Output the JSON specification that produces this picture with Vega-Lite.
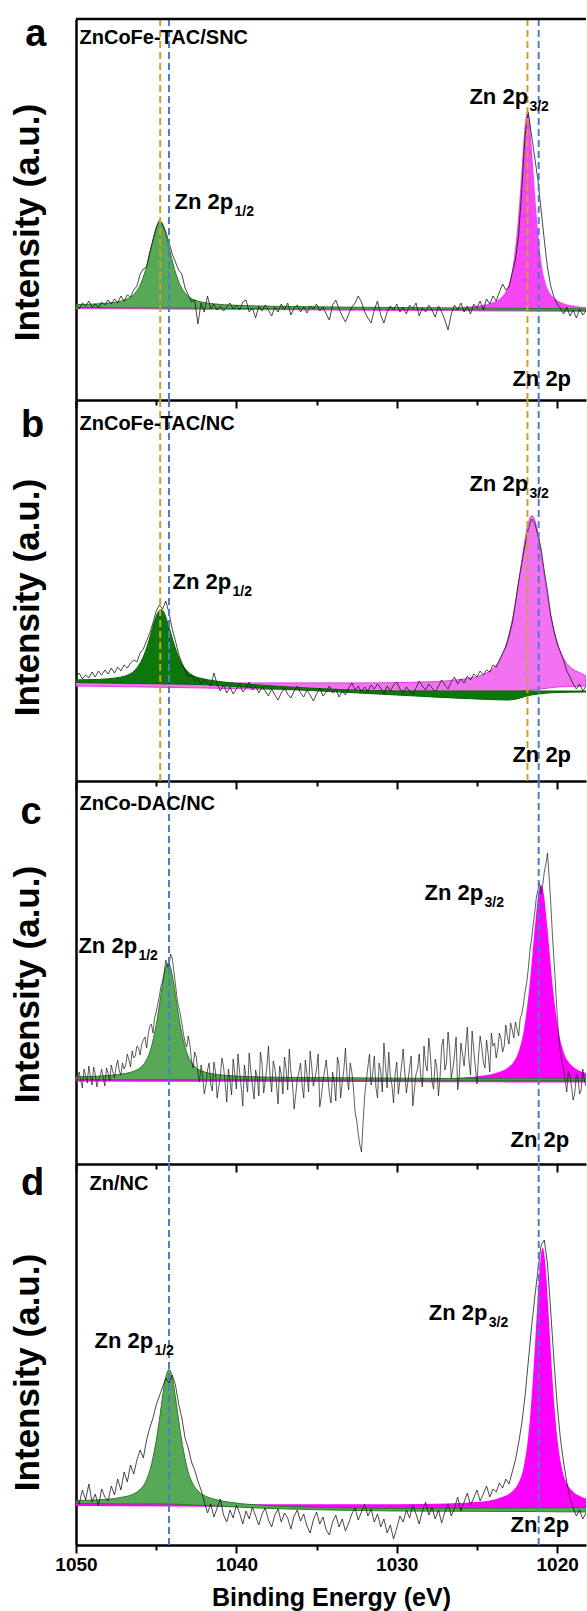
{
  "$schema": "https://vega.github.io/schema/vega-lite/v6.json",
  "background": "white",
  "padding": {"left": 10, "top": 15, "right": 0, "bottom": 2},
  "bounds": "flush",
  "spacing": 0,
  "resolve": {"scale": {"x": "independent", "y": "independent", "color": "independent"}},
  "config": {"view": {"stroke": null}, "font": "Liberation Sans"},
  "datasets": {
    "refs": [
      {"e": 1044.75, "g": "TAC"}, {"e": 1021.85, "g": "TAC"},
      {"e": 1044.2, "g": "NC"}, {"e": 1021.15, "g": "NC"}
    ],
    "raw_a": [
      {"e":1050,"v":95},{"e":1049.8,"v":91},{"e":1049.6,"v":97},{"e":1049.4,"v":94},{"e":1049.2,"v":99},{"e":1049,"v":93},{"e":1048.8,"v":96},{"e":1048.6,"v":92},{"e":1048.4,"v":98},{"e":1048.2,"v":95},
      {"e":1048,"v":100},{"e":1047.8,"v":96},{"e":1047.6,"v":101},{"e":1047.4,"v":97},{"e":1047.2,"v":104},{"e":1047,"v":99},{"e":1046.8,"v":105},{"e":1046.6,"v":103},{"e":1046.4,"v":110},{"e":1046.2,"v":114},
      {"e":1046,"v":126},{"e":1045.8,"v":131},{"e":1045.6,"v":133},{"e":1045.4,"v":148},{"e":1045.2,"v":160},{"e":1045,"v":172},{"e":1044.8,"v":180},{"e":1044.6,"v":175},{"e":1044.4,"v":168},{"e":1044.2,"v":158},
      {"e":1044,"v":146},{"e":1043.8,"v":138},{"e":1043.6,"v":130},{"e":1043.4,"v":126},{"e":1043.2,"v":112},{"e":1043,"v":105},{"e":1042.8,"v":98},{"e":1042.6,"v":100},{"e":1042.4,"v":76},{"e":1042.2,"v":97},
      {"e":1042,"v":88},{"e":1041.8,"v":104},{"e":1041.6,"v":91},{"e":1041.4,"v":96},{"e":1041.2,"v":90},{"e":1041,"v":94},{"e":1040.8,"v":89},{"e":1040.6,"v":93},{"e":1040.4,"v":97},{"e":1040.2,"v":91},
      {"e":1040,"v":95},{"e":1039.8,"v":90},{"e":1039.6,"v":98},{"e":1039.4,"v":100},{"e":1039.2,"v":88},{"e":1039,"v":92},{"e":1038.8,"v":82},{"e":1038.6,"v":94},{"e":1038.4,"v":89},{"e":1038.2,"v":95},
      {"e":1038,"v":90},{"e":1037.8,"v":84},{"e":1037.6,"v":93},{"e":1037.4,"v":88},{"e":1037.2,"v":96},{"e":1037,"v":90},{"e":1036.8,"v":97},{"e":1036.6,"v":85},{"e":1036.4,"v":92},{"e":1036.2,"v":95},
      {"e":1036,"v":88},{"e":1035.8,"v":93},{"e":1035.6,"v":87},{"e":1035.4,"v":94},{"e":1035.2,"v":91},{"e":1035,"v":96},{"e":1034.8,"v":89},{"e":1034.6,"v":93},{"e":1034.4,"v":86},{"e":1034.2,"v":80},
      {"e":1034,"v":95},{"e":1033.8,"v":100},{"e":1033.6,"v":91},{"e":1033.4,"v":84},{"e":1033.2,"v":78},{"e":1033,"v":86},{"e":1032.8,"v":93},{"e":1032.6,"v":97},{"e":1032.4,"v":104},{"e":1032.2,"v":98},
      {"e":1032,"v":88},{"e":1031.8,"v":82},{"e":1031.6,"v":77},{"e":1031.4,"v":90},{"e":1031.2,"v":99},{"e":1031,"v":85},{"e":1030.8,"v":77},{"e":1030.6,"v":88},{"e":1030.4,"v":94},{"e":1030.2,"v":90},
      {"e":1030,"v":96},{"e":1029.8,"v":88},{"e":1029.6,"v":93},{"e":1029.4,"v":86},{"e":1029.2,"v":95},{"e":1029,"v":91},{"e":1028.8,"v":97},{"e":1028.6,"v":84},{"e":1028.4,"v":92},{"e":1028.2,"v":88},
      {"e":1028,"v":95},{"e":1027.8,"v":90},{"e":1027.6,"v":83},{"e":1027.4,"v":94},{"e":1027.2,"v":88},{"e":1027,"v":80},{"e":1026.8,"v":70},{"e":1026.6,"v":86},{"e":1026.4,"v":95},{"e":1026.2,"v":90},
      {"e":1026,"v":97},{"e":1025.8,"v":88},{"e":1025.6,"v":94},{"e":1025.4,"v":86},{"e":1025.2,"v":96},{"e":1025,"v":92},{"e":1024.8,"v":99},{"e":1024.6,"v":90},{"e":1024.4,"v":101},{"e":1024.2,"v":96},
      {"e":1024,"v":104},{"e":1023.8,"v":99},{"e":1023.6,"v":108},{"e":1023.4,"v":116},{"e":1023.2,"v":110},{"e":1023,"v":113},{"e":1022.8,"v":127},{"e":1022.6,"v":140},{"e":1022.4,"v":165},{"e":1022.2,"v":212},
      {"e":1022,"v":265},{"e":1021.8,"v":288},{"e":1021.6,"v":265},{"e":1021.4,"v":243},{"e":1021.2,"v":220},{"e":1021,"v":190},{"e":1020.8,"v":160},{"e":1020.6,"v":132},{"e":1020.4,"v":114},{"e":1020.2,"v":103},
      {"e":1020,"v":96},{"e":1019.8,"v":92},{"e":1019.6,"v":86},{"e":1019.4,"v":93},{"e":1019.2,"v":84},{"e":1019,"v":90},{"e":1018.8,"v":82},{"e":1018.6,"v":91},{"e":1018.4,"v":85},{"e":1018.2,"v":89}
    ],
    "raw_b": [
      {"e":1050,"v":104},{"e":1049.8,"v":108},{"e":1049.6,"v":102},{"e":1049.4,"v":106},{"e":1049.2,"v":103},{"e":1049,"v":109},{"e":1048.8,"v":104},{"e":1048.6,"v":110},{"e":1048.4,"v":106},{"e":1048.2,"v":111},
      {"e":1048,"v":107},{"e":1047.8,"v":113},{"e":1047.6,"v":108},{"e":1047.4,"v":114},{"e":1047.2,"v":110},{"e":1047,"v":116},{"e":1046.8,"v":113},{"e":1046.6,"v":118},{"e":1046.4,"v":121},{"e":1046.2,"v":119},
      {"e":1046,"v":128},{"e":1045.8,"v":132},{"e":1045.6,"v":140},{"e":1045.4,"v":148},{"e":1045.2,"v":158},{"e":1045,"v":170},{"e":1044.8,"v":176},{"e":1044.6,"v":172},{"e":1044.4,"v":180},{"e":1044.2,"v":168},
      {"e":1044,"v":152},{"e":1043.8,"v":140},{"e":1043.6,"v":127},{"e":1043.4,"v":118},{"e":1043.2,"v":111},{"e":1043,"v":104},{"e":1042.8,"v":106},{"e":1042.6,"v":100},{"e":1042.4,"v":103},{"e":1042.2,"v":97},
      {"e":1042,"v":101},{"e":1041.8,"v":98},{"e":1041.6,"v":95},{"e":1041.4,"v":108},{"e":1041.2,"v":97},{"e":1041,"v":90},{"e":1040.8,"v":96},{"e":1040.6,"v":88},{"e":1040.4,"v":94},{"e":1040.2,"v":87},
      {"e":1040,"v":92},{"e":1039.8,"v":97},{"e":1039.6,"v":89},{"e":1039.4,"v":93},{"e":1039.2,"v":99},{"e":1039,"v":91},{"e":1038.8,"v":95},{"e":1038.6,"v":88},{"e":1038.4,"v":94},{"e":1038.2,"v":90},
      {"e":1038,"v":85},{"e":1037.8,"v":92},{"e":1037.6,"v":86},{"e":1037.4,"v":81},{"e":1037.2,"v":88},{"e":1037,"v":93},{"e":1036.8,"v":87},{"e":1036.6,"v":83},{"e":1036.4,"v":90},{"e":1036.2,"v":95},
      {"e":1036,"v":88},{"e":1035.8,"v":84},{"e":1035.6,"v":91},{"e":1035.4,"v":86},{"e":1035.2,"v":80},{"e":1035,"v":87},{"e":1034.8,"v":93},{"e":1034.6,"v":85},{"e":1034.4,"v":89},{"e":1034.2,"v":95},
      {"e":1034,"v":88},{"e":1033.8,"v":92},{"e":1033.6,"v":84},{"e":1033.4,"v":90},{"e":1033.2,"v":86},{"e":1033,"v":93},{"e":1032.8,"v":98},{"e":1032.6,"v":91},{"e":1032.4,"v":95},{"e":1032.2,"v":89},
      {"e":1032,"v":94},{"e":1031.8,"v":90},{"e":1031.6,"v":96},{"e":1031.4,"v":92},{"e":1031.2,"v":97},{"e":1031,"v":93},{"e":1030.8,"v":87},{"e":1030.6,"v":95},{"e":1030.4,"v":90},{"e":1030.2,"v":96},
      {"e":1030,"v":99},{"e":1029.8,"v":92},{"e":1029.6,"v":88},{"e":1029.4,"v":94},{"e":1029.2,"v":90},{"e":1029,"v":86},{"e":1028.8,"v":93},{"e":1028.6,"v":100},{"e":1028.4,"v":95},{"e":1028.2,"v":91},
      {"e":1028,"v":97},{"e":1027.8,"v":93},{"e":1027.6,"v":89},{"e":1027.4,"v":95},{"e":1027.2,"v":101},{"e":1027,"v":96},{"e":1026.8,"v":92},{"e":1026.6,"v":99},{"e":1026.4,"v":104},{"e":1026.2,"v":97},
      {"e":1026,"v":102},{"e":1025.8,"v":98},{"e":1025.6,"v":105},{"e":1025.4,"v":101},{"e":1025.2,"v":107},{"e":1025,"v":104},{"e":1024.8,"v":110},{"e":1024.6,"v":106},{"e":1024.4,"v":111},{"e":1024.2,"v":109},
      {"e":1024,"v":116},{"e":1023.8,"v":114},{"e":1023.6,"v":121},{"e":1023.4,"v":128},{"e":1023.2,"v":134},{"e":1023,"v":145},{"e":1022.8,"v":158},{"e":1022.6,"v":178},{"e":1022.4,"v":200},{"e":1022.2,"v":218},
      {"e":1022,"v":236},{"e":1021.8,"v":252},{"e":1021.6,"v":262},{"e":1021.4,"v":258},{"e":1021.2,"v":246},{"e":1021,"v":232},{"e":1020.8,"v":210},{"e":1020.6,"v":190},{"e":1020.4,"v":166},{"e":1020.2,"v":150},
      {"e":1020,"v":138},{"e":1019.8,"v":129},{"e":1019.6,"v":121},{"e":1019.4,"v":110},{"e":1019.2,"v":104},{"e":1019,"v":97},{"e":1018.8,"v":92},{"e":1018.6,"v":97},{"e":1018.4,"v":90},{"e":1018.2,"v":95}
    ],
    "raw_c": [
      {"e":1050,"v":80},{"e":1049.8,"v":92},{"e":1049.6,"v":76},{"e":1049.4,"v":88},{"e":1049.2,"v":98},{"e":1049,"v":79},{"e":1048.8,"v":90},{"e":1048.6,"v":84},{"e":1048.4,"v":95},{"e":1048.2,"v":78},
      {"e":1048,"v":91},{"e":1047.8,"v":99},{"e":1047.6,"v":86},{"e":1047.4,"v":104},{"e":1047.2,"v":89},{"e":1047,"v":95},{"e":1046.8,"v":110},{"e":1046.6,"v":97},{"e":1046.4,"v":106},{"e":1046.2,"v":118},
      {"e":1046,"v":109},{"e":1045.8,"v":124},{"e":1045.6,"v":116},{"e":1045.4,"v":138},{"e":1045.2,"v":131},{"e":1045,"v":152},{"e":1044.8,"v":168},{"e":1044.6,"v":183},{"e":1044.4,"v":204},{"e":1044.2,"v":198},
      {"e":1044,"v":206},{"e":1043.8,"v":180},{"e":1043.6,"v":157},{"e":1043.4,"v":141},{"e":1043.2,"v":122},{"e":1043,"v":128},{"e":1042.8,"v":104},{"e":1042.6,"v":112},{"e":1042.4,"v":91},{"e":1042.2,"v":99},
      {"e":1042,"v":70},{"e":1041.8,"v":94},{"e":1041.6,"v":80},{"e":1041.4,"v":102},{"e":1041.2,"v":66},{"e":1041,"v":88},{"e":1040.8,"v":97},{"e":1040.6,"v":62},{"e":1040.4,"v":84},{"e":1040.2,"v":105},
      {"e":1040,"v":75},{"e":1039.8,"v":92},{"e":1039.6,"v":58},{"e":1039.4,"v":86},{"e":1039.2,"v":111},{"e":1039,"v":79},{"e":1038.8,"v":94},{"e":1038.6,"v":68},{"e":1038.4,"v":100},{"e":1038.2,"v":83},
      {"e":1038,"v":118},{"e":1037.8,"v":72},{"e":1037.6,"v":96},{"e":1037.4,"v":60},{"e":1037.2,"v":89},{"e":1037,"v":107},{"e":1036.8,"v":74},{"e":1036.6,"v":92},{"e":1036.4,"v":55},{"e":1036.2,"v":85},
      {"e":1036,"v":101},{"e":1035.8,"v":66},{"e":1035.6,"v":90},{"e":1035.4,"v":113},{"e":1035.2,"v":78},{"e":1035,"v":95},{"e":1034.8,"v":57},{"e":1034.6,"v":83},{"e":1034.4,"v":104},{"e":1034.2,"v":70},
      {"e":1034,"v":92},{"e":1033.8,"v":63},{"e":1033.6,"v":99},{"e":1033.4,"v":81},{"e":1033.2,"v":116},{"e":1033,"v":74},{"e":1032.8,"v":92},{"e":1032.6,"v":52},{"e":1032.4,"v":30},{"e":1032.2,"v":12},
      {"e":1032,"v":68},{"e":1031.8,"v":97},{"e":1031.6,"v":79},{"e":1031.4,"v":108},{"e":1031.2,"v":66},{"e":1031,"v":93},{"e":1030.8,"v":121},{"e":1030.6,"v":76},{"e":1030.4,"v":88},{"e":1030.2,"v":61},
      {"e":1030,"v":102},{"e":1029.8,"v":84},{"e":1029.6,"v":115},{"e":1029.4,"v":71},{"e":1029.2,"v":96},{"e":1029,"v":58},{"e":1028.8,"v":90},{"e":1028.6,"v":110},{"e":1028.4,"v":77},{"e":1028.2,"v":99},
      {"e":1028,"v":126},{"e":1027.8,"v":82},{"e":1027.6,"v":105},{"e":1027.4,"v":68},{"e":1027.2,"v":118},{"e":1027,"v":94},{"e":1026.8,"v":132},{"e":1026.6,"v":86},{"e":1026.4,"v":109},{"e":1026.2,"v":74},
      {"e":1026,"v":121},{"e":1025.8,"v":98},{"e":1025.6,"v":137},{"e":1025.4,"v":89},{"e":1025.2,"v":114},{"e":1025,"v":80},{"e":1024.8,"v":128},{"e":1024.6,"v":102},{"e":1024.4,"v":124},{"e":1024.2,"v":92},
      {"e":1024,"v":118},{"e":1023.8,"v":106},{"e":1023.6,"v":131},{"e":1023.4,"v":112},{"e":1023.2,"v":139},{"e":1023,"v":120},{"e":1022.8,"v":134},{"e":1022.6,"v":142},{"e":1022.4,"v":128},{"e":1022.2,"v":150},
      {"e":1022,"v":172},{"e":1021.8,"v":195},{"e":1021.6,"v":224},{"e":1021.4,"v":251},{"e":1021.2,"v":274},{"e":1021,"v":270},{"e":1020.8,"v":292},{"e":1020.6,"v":311},{"e":1020.4,"v":262},{"e":1020.2,"v":205},
      {"e":1020,"v":150},{"e":1019.8,"v":112},{"e":1019.6,"v":96},{"e":1019.4,"v":72},{"e":1019.2,"v":88},{"e":1019,"v":64},{"e":1018.8,"v":90},{"e":1018.6,"v":70},{"e":1018.4,"v":95},{"e":1018.2,"v":78},
      {"e":1049.9,"v":85},{"e":1049.7,"v":83},{"e":1049.5,"v":95},{"e":1049.3,"v":81},{"e":1049.1,"v":87},{"e":1048.9,"v":97},{"e":1048.7,"v":77},{"e":1048.5,"v":88},{"e":1048.3,"v":86},{"e":1048.1,"v":96},
      {"e":1047.9,"v":83},{"e":1047.7,"v":92},{"e":1047.5,"v":97},{"e":1047.3,"v":93},{"e":1047.1,"v":101},{"e":1046.9,"v":99},{"e":1046.7,"v":104},{"e":1046.5,"v":113},{"e":1046.3,"v":108},{"e":1046.1,"v":116},
      {"e":1045.9,"v":120},{"e":1045.7,"v":127},{"e":1045.5,"v":129},{"e":1045.3,"v":140},{"e":1045.1,"v":146},{"e":1044.9,"v":160},{"e":1044.7,"v":178},{"e":1044.5,"v":192},{"e":1044.3,"v":197},{"e":1044.1,"v":210},
      {"e":1043.9,"v":193},{"e":1043.7,"v":166},{"e":1043.5,"v":150},{"e":1043.3,"v":130},{"e":1043.1,"v":117},{"e":1042.9,"v":119},{"e":1042.7,"v":96},{"e":1042.5,"v":107},{"e":1042.3,"v":82},{"e":1042.1,"v":88},
      {"e":1041.9,"v":79},{"e":1041.7,"v":101},{"e":1041.5,"v":73},{"e":1041.3,"v":92},{"e":1041.1,"v":77},{"e":1040.9,"v":106},{"e":1040.7,"v":81},{"e":1040.5,"v":95},{"e":1040.3,"v":69},{"e":1040.1,"v":90},
      {"e":1039.9,"v":110},{"e":1039.7,"v":77},{"e":1039.5,"v":99},{"e":1039.3,"v":72},{"e":1039.1,"v":93},{"e":1038.9,"v":65},{"e":1038.7,"v":87},{"e":1038.5,"v":112},{"e":1038.3,"v":71},{"e":1038.1,"v":96},
      {"e":1037.9,"v":88},{"e":1037.7,"v":103},{"e":1037.5,"v":79},{"e":1037.3,"v":98},{"e":1037.1,"v":70},{"e":1036.9,"v":95},{"e":1036.7,"v":115},{"e":1036.5,"v":80},{"e":1036.3,"v":69},{"e":1036.1,"v":92},
      {"e":1035.9,"v":78},{"e":1035.7,"v":104},{"e":1035.5,"v":72},{"e":1035.3,"v":97},{"e":1035.1,"v":85},{"e":1034.9,"v":110},{"e":1034.7,"v":68},{"e":1034.5,"v":93},{"e":1034.3,"v":88},{"e":1034.1,"v":61},
      {"e":1033.9,"v":82},{"e":1033.7,"v":107},{"e":1033.5,"v":66},{"e":1033.3,"v":94},{"e":1033.1,"v":88},{"e":1032.9,"v":101},{"e":1032.7,"v":76},{"e":1032.5,"v":44},{"e":1032.3,"v":19},{"e":1032.1,"v":41},
      {"e":1031.9,"v":83},{"e":1031.7,"v":110},{"e":1031.5,"v":90},{"e":1031.3,"v":77},{"e":1031.1,"v":101},{"e":1030.9,"v":72},{"e":1030.7,"v":98},{"e":1030.5,"v":112},{"e":1030.3,"v":79},{"e":1030.1,"v":90},
      {"e":1029.9,"v":70},{"e":1029.7,"v":98},{"e":1029.5,"v":92},{"e":1029.3,"v":83},{"e":1029.1,"v":108},{"e":1028.9,"v":74},{"e":1028.7,"v":95},{"e":1028.5,"v":88},{"e":1028.3,"v":118},{"e":1028.1,"v":93},
      {"e":1027.9,"v":109},{"e":1027.7,"v":75},{"e":1027.5,"v":97},{"e":1027.3,"v":87},{"e":1027.1,"v":125},{"e":1026.9,"v":101},{"e":1026.7,"v":114},{"e":1026.5,"v":95},{"e":1026.3,"v":127},{"e":1026.1,"v":88},
      {"e":1025.9,"v":110},{"e":1025.7,"v":117},{"e":1025.5,"v":104},{"e":1025.3,"v":133},{"e":1025.1,"v":97},{"e":1024.9,"v":108},{"e":1024.7,"v":117},{"e":1024.5,"v":96},{"e":1024.3,"v":110},{"e":1024.1,"v":131},
      {"e":1023.9,"v":121},{"e":1023.7,"v":115},{"e":1023.5,"v":125},{"e":1023.3,"v":118},{"e":1023.1,"v":127},{"e":1022.9,"v":141},{"e":1022.7,"v":126},{"e":1022.5,"v":135},{"e":1022.3,"v":146},{"e":1022.1,"v":160},
      {"e":1021.9,"v":181},{"e":1021.7,"v":213},{"e":1021.5,"v":238},{"e":1021.3,"v":266},{"e":1021.1,"v":281},{"e":1020.9,"v":279},{"e":1020.7,"v":300},{"e":1020.5,"v":287},{"e":1020.3,"v":231},{"e":1020.1,"v":178},
      {"e":1019.9,"v":128},{"e":1019.7,"v":103},{"e":1019.5,"v":84},{"e":1019.3,"v":93},{"e":1019.1,"v":77},{"e":1018.9,"v":71},{"e":1018.7,"v":86},{"e":1018.5,"v":74},{"e":1018.3,"v":83}
    ],
    "raw_d": [
      {"e":1050,"v":47},{"e":1049.8,"v":41},{"e":1049.6,"v":55},{"e":1049.4,"v":45},{"e":1049.2,"v":61},{"e":1049,"v":43},{"e":1048.8,"v":51},{"e":1048.6,"v":39},{"e":1048.4,"v":56},{"e":1048.2,"v":48},
      {"e":1048,"v":44},{"e":1047.8,"v":59},{"e":1047.6,"v":50},{"e":1047.4,"v":66},{"e":1047.2,"v":55},{"e":1047,"v":73},{"e":1046.8,"v":63},{"e":1046.6,"v":80},{"e":1046.4,"v":71},{"e":1046.2,"v":85},
      {"e":1046,"v":95},{"e":1045.8,"v":87},{"e":1045.6,"v":105},{"e":1045.4,"v":117},{"e":1045.2,"v":127},{"e":1045,"v":140},{"e":1044.8,"v":149},{"e":1044.6,"v":158},{"e":1044.4,"v":167},{"e":1044.2,"v":162},
      {"e":1044,"v":170},{"e":1043.8,"v":160},{"e":1043.6,"v":141},{"e":1043.4,"v":127},{"e":1043.2,"v":107},{"e":1043,"v":97},{"e":1042.8,"v":83},{"e":1042.6,"v":75},{"e":1042.4,"v":64},{"e":1042.2,"v":55},
      {"e":1042,"v":43},{"e":1041.8,"v":32},{"e":1041.6,"v":41},{"e":1041.4,"v":28},{"e":1041.2,"v":37},{"e":1041,"v":46},{"e":1040.8,"v":30},{"e":1040.6,"v":23},{"e":1040.4,"v":35},{"e":1040.2,"v":27},
      {"e":1040,"v":40},{"e":1039.8,"v":32},{"e":1039.6,"v":21},{"e":1039.4,"v":34},{"e":1039.2,"v":26},{"e":1039,"v":38},{"e":1038.8,"v":29},{"e":1038.6,"v":20},{"e":1038.4,"v":31},{"e":1038.2,"v":37},
      {"e":1038,"v":25},{"e":1037.8,"v":18},{"e":1037.6,"v":30},{"e":1037.4,"v":36},{"e":1037.2,"v":23},{"e":1037,"v":32},{"e":1036.8,"v":27},{"e":1036.6,"v":16},{"e":1036.4,"v":29},{"e":1036.2,"v":35},
      {"e":1036,"v":24},{"e":1035.8,"v":31},{"e":1035.6,"v":19},{"e":1035.4,"v":12},{"e":1035.2,"v":25},{"e":1035,"v":33},{"e":1034.8,"v":21},{"e":1034.6,"v":28},{"e":1034.4,"v":15},{"e":1034.2,"v":10},
      {"e":1034,"v":23},{"e":1033.8,"v":30},{"e":1033.6,"v":18},{"e":1033.4,"v":26},{"e":1033.2,"v":14},{"e":1033,"v":22},{"e":1032.8,"v":31},{"e":1032.6,"v":37},{"e":1032.4,"v":25},{"e":1032.2,"v":33},
      {"e":1032,"v":41},{"e":1031.8,"v":29},{"e":1031.6,"v":36},{"e":1031.4,"v":23},{"e":1031.2,"v":31},{"e":1031,"v":18},{"e":1030.8,"v":26},{"e":1030.6,"v":12},{"e":1030.4,"v":20},{"e":1030.2,"v":6},
      {"e":1030,"v":17},{"e":1029.8,"v":29},{"e":1029.6,"v":23},{"e":1029.4,"v":35},{"e":1029.2,"v":27},{"e":1029,"v":40},{"e":1028.8,"v":31},{"e":1028.6,"v":21},{"e":1028.4,"v":34},{"e":1028.2,"v":43},
      {"e":1028,"v":30},{"e":1027.8,"v":38},{"e":1027.6,"v":26},{"e":1027.4,"v":35},{"e":1027.2,"v":22},{"e":1027,"v":33},{"e":1026.8,"v":41},{"e":1026.6,"v":29},{"e":1026.4,"v":37},{"e":1026.2,"v":48},
      {"e":1026,"v":34},{"e":1025.8,"v":43},{"e":1025.6,"v":52},{"e":1025.4,"v":40},{"e":1025.2,"v":47},{"e":1025,"v":55},{"e":1024.8,"v":44},{"e":1024.6,"v":51},{"e":1024.4,"v":59},{"e":1024.2,"v":48},
      {"e":1024,"v":56},{"e":1023.8,"v":53},{"e":1023.6,"v":62},{"e":1023.4,"v":57},{"e":1023.2,"v":66},{"e":1023,"v":61},{"e":1022.8,"v":73},{"e":1022.6,"v":85},{"e":1022.4,"v":102},{"e":1022.2,"v":122},
      {"e":1022,"v":149},{"e":1021.8,"v":183},{"e":1021.6,"v":217},{"e":1021.4,"v":247},{"e":1021.2,"v":274},{"e":1021,"v":300},{"e":1020.8,"v":305},{"e":1020.6,"v":281},{"e":1020.4,"v":234},{"e":1020.2,"v":185},
      {"e":1020,"v":141},{"e":1019.8,"v":107},{"e":1019.6,"v":83},{"e":1019.4,"v":63},{"e":1019.2,"v":47},{"e":1019,"v":37},{"e":1018.8,"v":29},{"e":1018.6,"v":35},{"e":1018.4,"v":26},{"e":1018.2,"v":32}
    ],
    "fit_a": [
      {"c":"g","e":1050,"v":95.4,"lo":92.5},{"c":"g","e":1048.75,"v":96.1,"lo":92.4},{"c":"g","e":1047.95,"v":97.0,"lo":92.3},{"c":"g","e":1047.15,"v":99.1,"lo":92.2},
      {"c":"g","e":1046.75,"v":101.4,"lo":92.2},{"c":"g","e":1046.35,"v":106.2,"lo":92.2},{"c":"g","e":1045.95,"v":116.7,"lo":92.1},{"c":"g","e":1045.75,"v":125.3,"lo":92.1},
      {"c":"g","e":1045.55,"v":136.3,"lo":92.1},{"c":"g","e":1045.35,"v":149.5,"lo":92.1},{"c":"g","e":1045.15,"v":163.1,"lo":92.0},{"c":"g","e":1044.95,"v":174.3,"lo":92.0},
      {"c":"g","e":1044.75,"v":178.7,"lo":92.0},{"c":"g","e":1044.55,"v":174.3,"lo":92.0},{"c":"g","e":1044.35,"v":163.1,"lo":92.0},{"c":"g","e":1044.15,"v":149.4,"lo":92.0},
      {"c":"g","e":1043.95,"v":136.1,"lo":91.9},{"c":"g","e":1043.75,"v":125.1,"lo":91.9},{"c":"g","e":1043.55,"v":116.5,"lo":91.9},{"c":"g","e":1043.15,"v":105.9,"lo":91.9},
      {"c":"g","e":1042.75,"v":101.0,"lo":91.8},{"c":"g","e":1042.35,"v":98.7,"lo":91.8},{"c":"g","e":1041.55,"v":96.4,"lo":91.7},{"c":"g","e":1040.75,"v":95.3,"lo":91.6},
      {"c":"g","e":1039.15,"v":94.2,"lo":91.5},{"c":"g","e":1036.75,"v":93.5,"lo":91.3},{"c":"g","e":1030,"v":92.5,"lo":90.6},{"c":"g","e":1018.2,"v":91.2,"lo":89.5},
      {"c":"p","e":1050,"v":93.0,"lo":91.0},{"c":"p","e":1040,"v":92.2,"lo":90.1},{"c":"p","e":1030.1,"v":91.6,"lo":89.1},{"c":"p","e":1027.35,"v":92.1,"lo":88.9},
      {"c":"p","e":1025.7,"v":93.1,"lo":88.7},{"c":"p","e":1024.6,"v":95.2,"lo":88.6},{"c":"p","e":1024.05,"v":97.6,"lo":88.6},{"c":"p","e":1023.5,"v":102.6,"lo":88.5},
      {"c":"p","e":1023.23,"v":108.0,"lo":88.5},{"c":"p","e":1022.95,"v":119.4,"lo":88.4},{"c":"p","e":1022.68,"v":143.9,"lo":88.4},{"c":"p","e":1022.54,"v":164.0,"lo":88.4},
      {"c":"p","e":1022.4,"v":189.9,"lo":88.4},{"c":"p","e":1022.26,"v":220.7,"lo":88.4},{"c":"p","e":1022.13,"v":252.8,"lo":88.4},{"c":"p","e":1021.99,"v":279.1,"lo":88.4},
      {"c":"p","e":1021.85,"v":289.4,"lo":88.3},{"c":"p","e":1021.71,"v":279.0,"lo":88.3},{"c":"p","e":1021.58,"v":252.7,"lo":88.3},{"c":"p","e":1021.44,"v":220.6,"lo":88.3},
      {"c":"p","e":1021.3,"v":189.8,"lo":88.3},{"c":"p","e":1021.16,"v":163.9,"lo":88.3},{"c":"p","e":1021.03,"v":143.8,"lo":88.3},{"c":"p","e":1020.75,"v":119.1,"lo":88.2},
      {"c":"p","e":1020.48,"v":107.7,"lo":88.2},{"c":"p","e":1020.2,"v":102.3,"lo":88.2},{"c":"p","e":1019.65,"v":97.1,"lo":88.1},{"c":"p","e":1019.1,"v":94.7,"lo":88.1},
      {"c":"p","e":1018.2,"v":92.7,"lo":88.0}
    ],
    "fit_b": [
      {"c":"g","e":1050,"v":101.1,"lo":98.5},{"c":"g","e":1048.95,"v":101.4,"lo":98.2},{"c":"g","e":1048.1,"v":102.1,"lo":98.0},{"c":"g","e":1047.25,"v":103.8,"lo":97.8},
      {"c":"g","e":1046.83,"v":105.6,"lo":97.7},{"c":"g","e":1046.4,"v":109.7,"lo":97.6},{"c":"g","e":1045.98,"v":118.6,"lo":97.5},{"c":"g","e":1045.76,"v":125.9,"lo":97.4},
      {"c":"g","e":1045.55,"v":135.4,"lo":97.4},{"c":"g","e":1045.34,"v":146.6,"lo":97.3},{"c":"g","e":1045.13,"v":158.4,"lo":97.3},{"c":"g","e":1044.91,"v":167.9,"lo":97.2},
      {"c":"g","e":1044.7,"v":171.7,"lo":97.2},{"c":"g","e":1044.49,"v":167.8,"lo":97.1},{"c":"g","e":1044.28,"v":158.2,"lo":97.1},{"c":"g","e":1044.06,"v":146.3,"lo":97.0},
      {"c":"g","e":1043.85,"v":135.0,"lo":97.0},{"c":"g","e":1043.64,"v":125.4,"lo":96.9},{"c":"g","e":1043.43,"v":118.0,"lo":96.9},{"c":"g","e":1043,"v":108.9,"lo":96.8},
      {"c":"g","e":1042.58,"v":104.5,"lo":96.6},{"c":"g","e":1042.15,"v":102.5,"lo":96.5},{"c":"g","e":1041.3,"v":100.0,"lo":95.7},{"c":"g","e":1040.45,"v":98.4,"lo":94.8},
      {"c":"g","e":1038.75,"v":96.2,"lo":93.2},{"c":"g","e":1036.2,"v":93.6,"lo":91.2},{"c":"g","e":1030,"v":90.1,"lo":86},{"c":"g","e":1025,"v":90,"lo":82},
      {"c":"g","e":1023,"v":90,"lo":81},{"c":"g","e":1021.6,"v":90,"lo":86},{"c":"g","e":1020,"v":90,"lo":88.5},{"c":"g","e":1018.2,"v":90,"lo":89},
      {"c":"p","e":1050,"v":98.5,"lo":95},{"c":"p","e":1042,"v":98.0,"lo":93},{"c":"p","e":1036.57,"v":98.1,"lo":91.2},{"c":"p","e":1031.57,"v":98.1,"lo":89.5},
      {"c":"p","e":1028.57,"v":98.9,"lo":88.7},{"c":"p","e":1026.57,"v":100.6,"lo":88.3},{"c":"p","e":1025.57,"v":102.6,"lo":88.1},{"c":"p","e":1024.57,"v":106.8,"lo":88},
      {"c":"p","e":1024.07,"v":111.4,"lo":88},{"c":"p","e":1023.57,"v":121.0,"lo":88},{"c":"p","e":1023.07,"v":142.0,"lo":88},{"c":"p","e":1022.82,"v":159.0,"lo":88.4},
      {"c":"p","e":1022.57,"v":181.0,"lo":88.9},{"c":"p","e":1022.32,"v":207.2,"lo":89.5},{"c":"p","e":1022.07,"v":234.4,"lo":90.0},{"c":"p","e":1021.82,"v":256.7,"lo":90.6},
      {"c":"p","e":1021.57,"v":265.5,"lo":91.0},{"c":"p","e":1021.32,"v":256.8,"lo":91.5},{"c":"p","e":1021.07,"v":234.6,"lo":92.0},{"c":"p","e":1020.82,"v":207.4,"lo":92.4},
      {"c":"p","e":1020.57,"v":181.3,"lo":92.9},{"c":"p","e":1020.32,"v":159.4,"lo":93.4},{"c":"p","e":1020.07,"v":142.5,"lo":93.9},{"c":"p","e":1019.57,"v":121.7,"lo":94.3},
      {"c":"p","e":1019.07,"v":112.4,"lo":94.6},{"c":"p","e":1018.57,"v":108.1,"lo":94.8},{"c":"p","e":1018.2,"v":105.2,"lo":95}
    ],
    "fit_c": [
      {"c":"g","e":1050,"v":87.2,"lo":84.5},{"c":"g","e":1049.15,"v":87.5,"lo":84.5},{"c":"g","e":1047.75,"v":88.8,"lo":84.4},{"c":"g","e":1047.05,"v":90.2,"lo":84.4},
      {"c":"g","e":1046.35,"v":93.1,"lo":84.4},{"c":"g","e":1046,"v":96.2,"lo":84.4},{"c":"g","e":1045.65,"v":102.8,"lo":84.4},{"c":"g","e":1045.3,"v":117.0,"lo":84.4},
      {"c":"g","e":1045.13,"v":128.7,"lo":84.4},{"c":"g","e":1044.95,"v":143.6,"lo":84.4},{"c":"g","e":1044.78,"v":161.4,"lo":84.4},{"c":"g","e":1044.6,"v":179.9,"lo":84.4},
      {"c":"g","e":1044.43,"v":195.1,"lo":84.4},{"c":"g","e":1044.25,"v":201.0,"lo":84.3},{"c":"g","e":1044.08,"v":195.0,"lo":84.3},{"c":"g","e":1043.9,"v":179.8,"lo":84.3},
      {"c":"g","e":1043.73,"v":161.3,"lo":84.3},{"c":"g","e":1043.55,"v":143.5,"lo":84.3},{"c":"g","e":1043.38,"v":128.6,"lo":84.3},{"c":"g","e":1043.2,"v":116.9,"lo":84.3},
      {"c":"g","e":1042.85,"v":102.7,"lo":84.3},{"c":"g","e":1042.5,"v":96.1,"lo":84.3},{"c":"g","e":1042.15,"v":93.0,"lo":84.3},{"c":"g","e":1041.45,"v":90.1,"lo":84.3},
      {"c":"g","e":1040.75,"v":88.7,"lo":84.3},{"c":"g","e":1039.35,"v":87.4,"lo":84.2},{"c":"g","e":1037.25,"v":86.7,"lo":84.1},{"c":"g","e":1033.75,"v":86.3,"lo":84.0},
      {"c":"g","e":1025,"v":85.4,"lo":83.7},{"c":"g","e":1018.2,"v":85.2,"lo":83.5},
      {"c":"p","e":1050,"v":85.0,"lo":82.5},{"c":"p","e":1040,"v":84.8,"lo":82.2},{"c":"p","e":1031.5,"v":84.9,"lo":81.9},{"c":"p","e":1028,"v":85.5,"lo":81.8},
      {"c":"p","e":1025.9,"v":86.5,"lo":81.7},{"c":"p","e":1024.5,"v":88.7,"lo":81.7},{"c":"p","e":1023.8,"v":91.1,"lo":81.7},{"c":"p","e":1023.1,"v":96.1,"lo":81.6},
      {"c":"p","e":1022.75,"v":101.3,"lo":81.6},{"c":"p","e":1022.4,"v":112.4,"lo":81.6},{"c":"p","e":1022.05,"v":136.6,"lo":81.6},{"c":"p","e":1021.88,"v":156.3,"lo":81.6},
      {"c":"p","e":1021.7,"v":181.6,"lo":81.6},{"c":"p","e":1021.53,"v":211.8,"lo":81.6},{"c":"p","e":1021.35,"v":243.2,"lo":81.6},{"c":"p","e":1021.18,"v":269.0,"lo":81.6},
      {"c":"p","e":1021,"v":279.1,"lo":81.6},{"c":"p","e":1020.82,"v":269.0,"lo":81.6},{"c":"p","e":1020.65,"v":243.2,"lo":81.6},{"c":"p","e":1020.47,"v":211.8,"lo":81.6},
      {"c":"p","e":1020.3,"v":181.5,"lo":81.5},{"c":"p","e":1020.12,"v":156.2,"lo":81.5},{"c":"p","e":1019.95,"v":136.5,"lo":81.5},{"c":"p","e":1019.6,"v":112.3,"lo":81.5},
      {"c":"p","e":1019.25,"v":101.2,"lo":81.5},{"c":"p","e":1018.9,"v":96.0,"lo":81.5},{"c":"p","e":1018.2,"v":90.9,"lo":81.5}
    ],
    "fit_d": [
      {"c":"g","e":1050,"v":44.2,"lo":41.5},{"c":"g","e":1049.45,"v":44.6,"lo":41.5},{"c":"g","e":1047.95,"v":45.8,"lo":41.3},{"c":"g","e":1047.2,"v":47.5,"lo":41.3},
      {"c":"g","e":1046.45,"v":50.8,"lo":41.2},{"c":"g","e":1046.08,"v":54.4,"lo":41.2},{"c":"g","e":1045.7,"v":61.9,"lo":41.1},{"c":"g","e":1045.33,"v":78.3,"lo":41.1},
      {"c":"g","e":1045.14,"v":91.9,"lo":41.1},{"c":"g","e":1044.95,"v":109.1,"lo":41.1},{"c":"g","e":1044.76,"v":129.7,"lo":41.1},{"c":"g","e":1044.58,"v":151.0,"lo":41.0},
      {"c":"g","e":1044.39,"v":168.6,"lo":41.0},{"c":"g","e":1044.2,"v":175.4,"lo":41.0},{"c":"g","e":1044.01,"v":168.6,"lo":41.0},{"c":"g","e":1043.83,"v":150.9,"lo":40.9},
      {"c":"g","e":1043.64,"v":129.3,"lo":40.7},{"c":"g","e":1043.45,"v":108.5,"lo":40.6},{"c":"g","e":1043.26,"v":91.1,"lo":40.4},{"c":"g","e":1043.08,"v":77.4,"lo":40.3},
      {"c":"g","e":1042.7,"v":60.7,"lo":40.0},{"c":"g","e":1042.33,"v":52.9,"lo":39.7},{"c":"g","e":1041.95,"v":49.1,"lo":39.5},{"c":"g","e":1041.2,"v":45.1,"lo":38.9},
      {"c":"g","e":1040.45,"v":42.8,"lo":38.3},{"c":"g","e":1038.95,"v":40.3,"lo":37.2},{"c":"g","e":1036.7,"v":38.5,"lo":36.0},{"c":"g","e":1030,"v":36.5,"lo":34.0},
      {"c":"g","e":1022,"v":37.0,"lo":33.5},{"c":"g","e":1018.2,"v":37.5,"lo":33.0},
      {"c":"p","e":1050,"v":41.5,"lo":39},{"c":"p","e":1044,"v":41.1,"lo":38.5},{"c":"p","e":1038,"v":40.7,"lo":38},{"c":"p","e":1029.9,"v":40.8,"lo":36.5},
      {"c":"p","e":1026.9,"v":41.4,"lo":36.5},{"c":"p","e":1025.1,"v":42.9,"lo":36.5},{"c":"p","e":1023.9,"v":45.6,"lo":36.5},{"c":"p","e":1023.3,"v":48.7,"lo":36.5},
      {"c":"p","e":1022.7,"v":55.3,"lo":36.5},{"c":"p","e":1022.4,"v":62.3,"lo":36.5},{"c":"p","e":1022.1,"v":77.0,"lo":36.5},{"c":"p","e":1021.8,"v":109.0,"lo":36.5},
      {"c":"p","e":1021.65,"v":135.0,"lo":36.5},{"c":"p","e":1021.5,"v":168.5,"lo":36.5},{"c":"p","e":1021.35,"v":208.4,"lo":36.4},{"c":"p","e":1021.2,"v":249.9,"lo":36.4},
      {"c":"p","e":1021.05,"v":284.0,"lo":36.4},{"c":"p","e":1020.9,"v":297.5,"lo":36.4},{"c":"p","e":1020.75,"v":284.0,"lo":36.4},{"c":"p","e":1020.6,"v":249.9,"lo":36.4},
      {"c":"p","e":1020.45,"v":208.4,"lo":36.4},{"c":"p","e":1020.3,"v":168.3,"lo":36.3},{"c":"p","e":1020.15,"v":134.8,"lo":36.3},{"c":"p","e":1020,"v":108.8,"lo":36.3},
      {"c":"p","e":1019.7,"v":76.6,"lo":36.3},{"c":"p","e":1019.4,"v":61.8,"lo":36.2},{"c":"p","e":1019.1,"v":55.0,"lo":36.2},{"c":"p","e":1018.5,"v":48.2,"lo":36.1},
      {"c":"p","e":1018.2,"v":46.4,"lo":36.0}
    ],
    "lab_a": [
      {"k":"name","e":1049.78,"v":356,"t":"ZnCoFe-TAC/SNC","s":""},
      {"k":"tag","e":1052.5,"v":354,"t":"a","s":""},
      {"k":"peak","e":1043.86,"v":191,"t":"Zn 2p","s":"1/2"},
      {"k":"peak","e":1025.47,"v":296,"t":"Zn 2p","s":"3/2"},
      {"k":"peak","e":1022.79,"v":14,"t":"Zn 2p","s":""}
    ],
    "lab_b": [
      {"k":"name","e":1049.78,"v":351,"t":"ZnCoFe-TAC/NC","s":""},
      {"k":"tag","e":1052.7,"v":344,"t":"b","s":""},
      {"k":"peak","e":1043.98,"v":192,"t":"Zn 2p","s":"1/2"},
      {"k":"peak","e":1025.47,"v":290,"t":"Zn 2p","s":"3/2"},
      {"k":"peak","e":1022.79,"v":19,"t":"Zn 2p","s":""}
    ],
    "lab_c": [
      {"k":"name","e":1049.78,"v":354,"t":"ZnCo-DAC/NC","s":""},
      {"k":"tag","e":1052.8,"v":340,"t":"c","s":""},
      {"k":"peak","e":1049.85,"v":211,"t":"Zn 2p","s":"1/2"},
      {"k":"peak","e":1028.27,"v":264,"t":"Zn 2p","s":"3/2"},
      {"k":"peak","e":1022.9,"v":17,"t":"Zn 2p","s":""}
    ],
    "lab_d": [
      {"k":"name","e":1049.16,"v":355,"t":"Zn/NC","s":""},
      {"k":"tag","e":1052.7,"v":350,"t":"d","s":""},
      {"k":"peak","e":1048.85,"v":197,"t":"Zn 2p","s":"1/2"},
      {"k":"peak","e":1028.0,"v":225,"t":"Zn 2p","s":"3/2"},
      {"k":"peak","e":1022.9,"v":13,"t":"Zn 2p","s":""}
    ]
  },
  "vconcat": [
    {
      "width": 510, "height": 381,
      "layer": [
        {"data": {"name": "fit_a"}, "transform": [{"filter": "datum.c == 'p'"}],
         "mark": {"type": "area", "clip": true, "color": "#f545f5", "interpolate": "monotone"},
         "encoding": {
           "x": {"field": "e", "type": "quantitative", "scale": {"domain": [1018.2, 1050], "reverse": true, "nice": false, "zero": false},
                 "axis": {"title": null, "labels": false, "values": [1050, 1045, 1040, 1035, 1030, 1025, 1020], "grid": false, "tickColor": "black", "tickWidth": 2, "tickSize": {"condition": {"test": "datum.value % 10 === 0", "value": 8}, "value": 5}, "domainColor": "black", "domainWidth": 2.5}},
           "y": {"field": "v", "type": "quantitative", "scale": {"domain": [0, 381], "nice": false, "zero": false},
                 "axis": {"title": "Intensity (a.u.)", "titleFontSize": 35, "titleFontWeight": "bold", "titleColor": "black", "titlePadding": 31, "titleY": 203, "labels": false, "ticks": false, "grid": false, "domainColor": "black", "domainWidth": 2.5}},
           "y2": {"field": "lo"}
         }},
        {"data": {"name": "fit_a"}, "transform": [{"filter": "datum.c == 'g'"}],
         "mark": {"type": "area", "clip": true, "color": "#57a857", "stroke": "#2a7a2a", "strokeWidth": 1, "interpolate": "monotone"},
         "encoding": {"x": {"field": "e", "type": "quantitative"}, "y": {"field": "v", "type": "quantitative"}, "y2": {"field": "lo"}}},
        {"data": {"name": "raw_a"},
         "mark": {"type": "line", "clip": true, "color": "#1a1a1a", "strokeWidth": 0.8},
         "encoding": {"x": {"field": "e", "type": "quantitative"}, "y": {"field": "v", "type": "quantitative"}}},
        {"data": {"name": "refs"},
         "mark": {"type": "rule", "strokeDash": [7, 4], "strokeWidth": 2},
         "encoding": {"x": {"field": "e", "type": "quantitative"},
                      "color": {"field": "g", "type": "nominal", "scale": {"domain": ["TAC", "NC"], "range": ["#c9a22c", "#4b7dcb"]}, "legend": null}}},
        {"data": {"values": [{}]},
         "mark": {"type": "rule", "color": "black", "strokeWidth": 2.5},
         "encoding": {"y": {"datum": 381, "type": "quantitative"}}},
        {"data": {"name": "lab_a"}, "transform": [{"filter": "datum.k == 'name'"}],
         "mark": {"type": "text", "align": "left", "baseline": "alphabetic", "fontSize": 20, "fontWeight": "bold", "color": "black"},
         "encoding": {"x": {"field": "e", "type": "quantitative"}, "y": {"field": "v", "type": "quantitative"}, "text": {"field": "t"}}},
        {"data": {"name": "lab_a"}, "transform": [{"filter": "datum.k == 'tag'"}],
         "mark": {"type": "text", "align": "center", "baseline": "alphabetic", "fontSize": 38, "fontWeight": "bold", "color": "black"},
         "encoding": {"x": {"field": "e", "type": "quantitative"}, "y": {"field": "v", "type": "quantitative"}, "text": {"field": "t"}}},
        {"data": {"name": "lab_a"}, "transform": [{"filter": "datum.k == 'peak'"}],
         "mark": {"type": "text", "align": "left", "baseline": "alphabetic", "fontSize": 22, "fontWeight": "bold", "color": "black"},
         "encoding": {"x": {"field": "e", "type": "quantitative"}, "y": {"field": "v", "type": "quantitative"}, "text": {"field": "t"}}},
        {"data": {"name": "lab_a"}, "transform": [{"filter": "datum.k == 'peak'"}],
         "mark": {"type": "text", "align": "left", "baseline": "alphabetic", "fontSize": 14, "fontWeight": "bold", "color": "black", "dx": 60, "dy": 7},
         "encoding": {"x": {"field": "e", "type": "quantitative"}, "y": {"field": "v", "type": "quantitative"}, "text": {"field": "s"}}}
      ]
    },
    {
      "width": 510, "height": 381,
      "layer": [
        {"data": {"name": "fit_b"}, "transform": [{"filter": "datum.c == 'p'"}],
         "mark": {"type": "area", "clip": true, "color": "#f272f2", "stroke": "#e03ee0", "strokeWidth": 1, "interpolate": "monotone"},
         "encoding": {
           "x": {"field": "e", "type": "quantitative", "scale": {"domain": [1018.2, 1050], "reverse": true, "nice": false, "zero": false},
                 "axis": {"title": null, "labels": false, "values": [1050, 1045, 1040, 1035, 1030, 1025, 1020], "grid": false, "tickColor": "black", "tickWidth": 2, "tickSize": {"condition": {"test": "datum.value % 10 === 0", "value": 8}, "value": 5}, "domainColor": "black", "domainWidth": 2.5}},
           "y": {"field": "v", "type": "quantitative", "scale": {"domain": [0, 381], "nice": false, "zero": false},
                 "axis": {"title": "Intensity (a.u.)", "titleFontSize": 35, "titleFontWeight": "bold", "titleColor": "black", "titlePadding": 31, "titleY": 197, "labels": false, "ticks": false, "grid": false, "domainColor": "black", "domainWidth": 2.5}},
           "y2": {"field": "lo"}
         }},
        {"data": {"name": "fit_b"}, "transform": [{"filter": "datum.c == 'g'"}],
         "mark": {"type": "area", "clip": true, "color": "#0c780c", "stroke": "#076207", "strokeWidth": 1, "interpolate": "monotone"},
         "encoding": {"x": {"field": "e", "type": "quantitative"}, "y": {"field": "v", "type": "quantitative"}, "y2": {"field": "lo"}}},
        {"data": {"name": "raw_b"},
         "mark": {"type": "line", "clip": true, "color": "#1a1a1a", "strokeWidth": 0.8},
         "encoding": {"x": {"field": "e", "type": "quantitative"}, "y": {"field": "v", "type": "quantitative"}}},
        {"data": {"name": "refs"},
         "mark": {"type": "rule", "strokeDash": [7, 4], "strokeWidth": 2},
         "encoding": {"x": {"field": "e", "type": "quantitative"},
                      "color": {"field": "g", "type": "nominal", "scale": {"domain": ["TAC", "NC"], "range": ["#c9a22c", "#4b7dcb"]}, "legend": null}}},
        {"data": {"name": "lab_b"}, "transform": [{"filter": "datum.k == 'name'"}],
         "mark": {"type": "text", "align": "left", "baseline": "alphabetic", "fontSize": 20, "fontWeight": "bold", "color": "black"},
         "encoding": {"x": {"field": "e", "type": "quantitative"}, "y": {"field": "v", "type": "quantitative"}, "text": {"field": "t"}}},
        {"data": {"name": "lab_b"}, "transform": [{"filter": "datum.k == 'tag'"}],
         "mark": {"type": "text", "align": "center", "baseline": "alphabetic", "fontSize": 38, "fontWeight": "bold", "color": "black"},
         "encoding": {"x": {"field": "e", "type": "quantitative"}, "y": {"field": "v", "type": "quantitative"}, "text": {"field": "t"}}},
        {"data": {"name": "lab_b"}, "transform": [{"filter": "datum.k == 'peak'"}],
         "mark": {"type": "text", "align": "left", "baseline": "alphabetic", "fontSize": 22, "fontWeight": "bold", "color": "black"},
         "encoding": {"x": {"field": "e", "type": "quantitative"}, "y": {"field": "v", "type": "quantitative"}, "text": {"field": "t"}}},
        {"data": {"name": "lab_b"}, "transform": [{"filter": "datum.k == 'peak'"}],
         "mark": {"type": "text", "align": "left", "baseline": "alphabetic", "fontSize": 14, "fontWeight": "bold", "color": "black", "dx": 60, "dy": 7},
         "encoding": {"x": {"field": "e", "type": "quantitative"}, "y": {"field": "v", "type": "quantitative"}, "text": {"field": "s"}}}
      ]
    },
    {
      "width": 510, "height": 383,
      "layer": [
        {"data": {"name": "fit_c"}, "transform": [{"filter": "datum.c == 'p'"}],
         "mark": {"type": "area", "clip": true, "color": "#ff00ff", "interpolate": "monotone"},
         "encoding": {
           "x": {"field": "e", "type": "quantitative", "scale": {"domain": [1018.2, 1050], "reverse": true, "nice": false, "zero": false},
                 "axis": {"title": null, "labels": false, "values": [1050, 1045, 1040, 1035, 1030, 1025, 1020], "grid": false, "tickColor": "black", "tickWidth": 2, "tickSize": {"condition": {"test": "datum.value % 10 === 0", "value": 8}, "value": 5}, "domainColor": "black", "domainWidth": 2.5}},
           "y": {"field": "v", "type": "quantitative", "scale": {"domain": [0, 383], "nice": false, "zero": false},
                 "axis": {"title": "Intensity (a.u.)", "titleFontSize": 35, "titleFontWeight": "bold", "titleColor": "black", "titlePadding": 31, "titleY": 203, "labels": false, "ticks": false, "grid": false, "domainColor": "black", "domainWidth": 2.5}},
           "y2": {"field": "lo"}
         }},
        {"data": {"name": "fit_c"}, "transform": [{"filter": "datum.c == 'g'"}],
         "mark": {"type": "area", "clip": true, "color": "#57a857", "stroke": "#2a7a2a", "strokeWidth": 1, "interpolate": "monotone"},
         "encoding": {"x": {"field": "e", "type": "quantitative"}, "y": {"field": "v", "type": "quantitative"}, "y2": {"field": "lo"}}},
        {"data": {"name": "raw_c"},
         "mark": {"type": "line", "clip": true, "color": "#1a1a1a", "strokeWidth": 0.7},
         "encoding": {"x": {"field": "e", "type": "quantitative"}, "y": {"field": "v", "type": "quantitative"}}},
        {"data": {"name": "refs"}, "transform": [{"filter": "datum.g == 'NC'"}],
         "mark": {"type": "rule", "strokeDash": [7, 4], "strokeWidth": 2},
         "encoding": {"x": {"field": "e", "type": "quantitative"},
                      "color": {"field": "g", "type": "nominal", "scale": {"domain": ["TAC", "NC"], "range": ["#c9a22c", "#4b7dcb"]}, "legend": null}}},
        {"data": {"name": "lab_c"}, "transform": [{"filter": "datum.k == 'name'"}],
         "mark": {"type": "text", "align": "left", "baseline": "alphabetic", "fontSize": 20, "fontWeight": "bold", "color": "black"},
         "encoding": {"x": {"field": "e", "type": "quantitative"}, "y": {"field": "v", "type": "quantitative"}, "text": {"field": "t"}}},
        {"data": {"name": "lab_c"}, "transform": [{"filter": "datum.k == 'tag'"}],
         "mark": {"type": "text", "align": "center", "baseline": "alphabetic", "fontSize": 38, "fontWeight": "bold", "color": "black"},
         "encoding": {"x": {"field": "e", "type": "quantitative"}, "y": {"field": "v", "type": "quantitative"}, "text": {"field": "t"}}},
        {"data": {"name": "lab_c"}, "transform": [{"filter": "datum.k == 'peak'"}],
         "mark": {"type": "text", "align": "left", "baseline": "alphabetic", "fontSize": 22, "fontWeight": "bold", "color": "black"},
         "encoding": {"x": {"field": "e", "type": "quantitative"}, "y": {"field": "v", "type": "quantitative"}, "text": {"field": "t"}}},
        {"data": {"name": "lab_c"}, "transform": [{"filter": "datum.k == 'peak'"}],
         "mark": {"type": "text", "align": "left", "baseline": "alphabetic", "fontSize": 14, "fontWeight": "bold", "color": "black", "dx": 60, "dy": 7},
         "encoding": {"x": {"field": "e", "type": "quantitative"}, "y": {"field": "v", "type": "quantitative"}, "text": {"field": "s"}}}
      ]
    },
    {
      "width": 510, "height": 381,
      "layer": [
        {"data": {"name": "fit_d"}, "transform": [{"filter": "datum.c == 'p'"}],
         "mark": {"type": "area", "clip": true, "color": "#ff00ff", "interpolate": "monotone"},
         "encoding": {
           "x": {"field": "e", "type": "quantitative", "scale": {"domain": [1018.2, 1050], "reverse": true, "nice": false, "zero": false},
                 "axis": {"title": "Binding Energy (eV)", "titleFontSize": 25, "titleFontWeight": "bold", "titleColor": "black", "titlePadding": 11,
                          "values": [1050, 1045, 1040, 1035, 1030, 1025, 1020], "format": "d", "labelExpr": "datum.value % 10 === 0 ? datum.label : ''",
                          "labelFontSize": 19, "labelFontWeight": "bold", "labelColor": "black", "labelPadding": 2, "labelFlush": false, "labelOverlap": false,
                          "grid": false, "tickColor": "black", "tickWidth": 2, "tickSize": {"condition": {"test": "datum.value % 10 === 0", "value": 8}, "value": 5}, "domainColor": "black", "domainWidth": 2.5}},
           "y": {"field": "v", "type": "quantitative", "scale": {"domain": [0, 381], "nice": false, "zero": false},
                 "axis": {"title": "Intensity (a.u.)", "titleFontSize": 35, "titleFontWeight": "bold", "titleColor": "black", "titlePadding": 31, "titleY": 208, "labels": false, "ticks": false, "grid": false, "domainColor": "black", "domainWidth": 2.5}},
           "y2": {"field": "lo"}
         }},
        {"data": {"name": "fit_d"}, "transform": [{"filter": "datum.c == 'g'"}],
         "mark": {"type": "area", "clip": true, "color": "#57a857", "stroke": "#2a7a2a", "strokeWidth": 1, "interpolate": "monotone"},
         "encoding": {"x": {"field": "e", "type": "quantitative"}, "y": {"field": "v", "type": "quantitative"}, "y2": {"field": "lo"}}},
        {"data": {"name": "raw_d"},
         "mark": {"type": "line", "clip": true, "color": "#1a1a1a", "strokeWidth": 0.8},
         "encoding": {"x": {"field": "e", "type": "quantitative"}, "y": {"field": "v", "type": "quantitative"}}},
        {"data": {"name": "refs"}, "transform": [{"filter": "datum.g == 'NC'"}],
         "mark": {"type": "rule", "strokeDash": [7, 4], "strokeWidth": 2},
         "encoding": {"x": {"field": "e", "type": "quantitative"},
                      "color": {"field": "g", "type": "nominal", "scale": {"domain": ["TAC", "NC"], "range": ["#c9a22c", "#4b7dcb"]}, "legend": null}}},
        {"data": {"name": "lab_d"}, "transform": [{"filter": "datum.k == 'name'"}],
         "mark": {"type": "text", "align": "left", "baseline": "alphabetic", "fontSize": 20, "fontWeight": "bold", "color": "black"},
         "encoding": {"x": {"field": "e", "type": "quantitative"}, "y": {"field": "v", "type": "quantitative"}, "text": {"field": "t"}}},
        {"data": {"name": "lab_d"}, "transform": [{"filter": "datum.k == 'tag'"}],
         "mark": {"type": "text", "align": "center", "baseline": "alphabetic", "fontSize": 38, "fontWeight": "bold", "color": "black"},
         "encoding": {"x": {"field": "e", "type": "quantitative"}, "y": {"field": "v", "type": "quantitative"}, "text": {"field": "t"}}},
        {"data": {"name": "lab_d"}, "transform": [{"filter": "datum.k == 'peak'"}],
         "mark": {"type": "text", "align": "left", "baseline": "alphabetic", "fontSize": 22, "fontWeight": "bold", "color": "black"},
         "encoding": {"x": {"field": "e", "type": "quantitative"}, "y": {"field": "v", "type": "quantitative"}, "text": {"field": "t"}}},
        {"data": {"name": "lab_d"}, "transform": [{"filter": "datum.k == 'peak'"}],
         "mark": {"type": "text", "align": "left", "baseline": "alphabetic", "fontSize": 14, "fontWeight": "bold", "color": "black", "dx": 60, "dy": 7},
         "encoding": {"x": {"field": "e", "type": "quantitative"}, "y": {"field": "v", "type": "quantitative"}, "text": {"field": "s"}}}
      ]
    }
  ]
}
